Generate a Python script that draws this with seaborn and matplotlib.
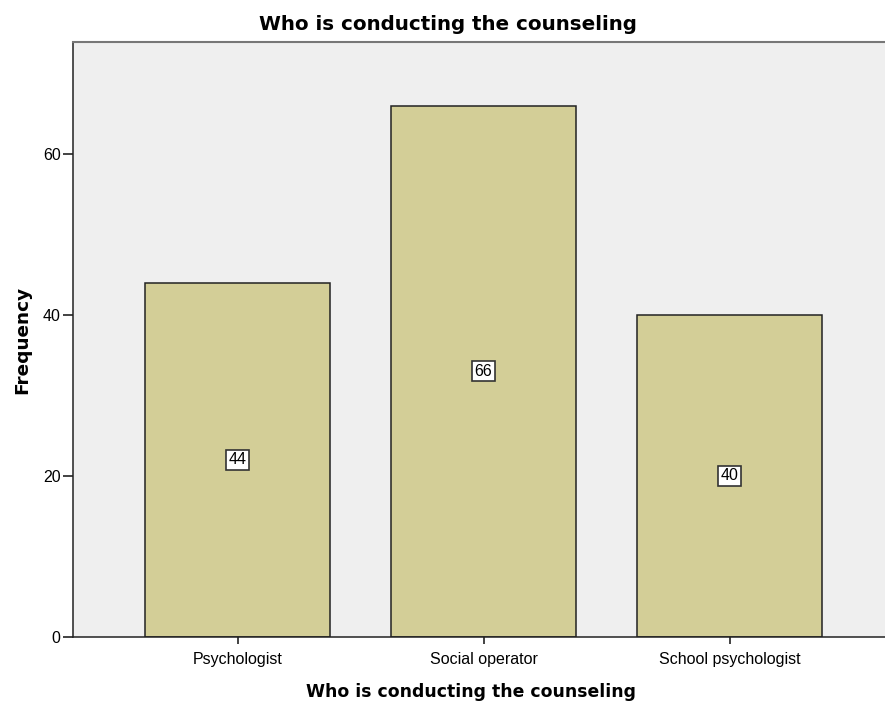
import matplotlib
matplotlib.use("Agg")
import matplotlib.pyplot as plt
import seaborn as sns
import pandas as pd

categories = ["Psychologist", "Social operator", "School psychologist"]
frequencies = [44, 66, 40]

df = pd.DataFrame({"who": categories, "freq": frequencies})

sns.set_style("white")
plt.rcParams["font.family"] = ["Liberation Sans", "DejaVu Sans"]
plt.rcParams["text.color"] = "black"
plt.rcParams["axes.labelcolor"] = "black"
plt.rcParams["xtick.color"] = "#222222"
plt.rcParams["ytick.color"] = "#222222"

W, H = 885, 704
fig = plt.figure(figsize=(W / 100, H / 100), dpi=100)
ax = fig.add_axes([73 / W, (H - 637) / H, (W - 73) / W, (637 - 42) / H])
ax.set_facecolor("#efefef")

sns.barplot(data=df, x="who", y="freq", order=categories, color="#d3ce97",
            saturation=1, width=0.752, edgecolor="#222222", linewidth=1.1, ax=ax)

ax.set_ylim(0, 73.9)
ax.set_xlim(-0.669, 2.632)
ax.set_yticks([0, 20, 40, 60])
ax.tick_params(axis="both", bottom=True, left=True, direction="out", length=5,
               width=1.2, labelsize=11.5, labelcolor="black", pad=6)
ax.tick_params(axis="y", length=7, pad=2)

for side in ["left", "bottom", "top"]:
    ax.spines[side].set_visible(True)
    ax.spines[side].set_color("#222222")
    ax.spines[side].set_linewidth(1.1)
ax.spines["top"].set_color("#777777")
ax.spines["top"].set_linewidth(1.5)
ax.spines["right"].set_visible(False)

for i, v in enumerate(frequencies):
    ax.text(i, v / 2, str(v), ha="center", va="center", fontsize=11.5,
            bbox=dict(boxstyle="square,pad=0.15", facecolor="white",
                      edgecolor="#333333", linewidth=1.2))

bold = ["DejaVu Sans"]
ax.set_xlabel("Who is conducting the counseling", fontsize=12.4, family=bold,
              fontweight="bold")
ax.xaxis.set_label_coords(0.49, -0.093)
ax.xaxis.label.set_verticalalignment("center")
ax.set_ylabel("Frequency", fontsize=13.3, family=bold, fontweight="bold",
              labelpad=8)
fig.suptitle("Who is conducting the counseling", x=448 / W, y=1 - 25 / H,
             va="center", fontsize=14.3, family=bold, fontweight="bold")

fig.savefig("out.png", dpi=100)
